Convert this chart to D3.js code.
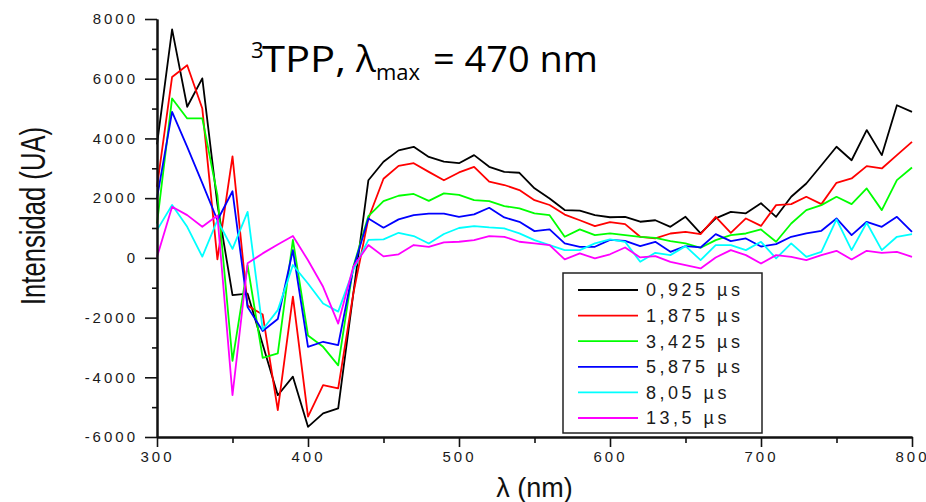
<!DOCTYPE html>
<html>
<head>
<meta charset="utf-8">
<script src="https://cdn.jsdelivr.net/npm/d3@7"></script>
<style>
  body { margin: 0; background: #fff; }
  svg { display: block; }
</style>
</head>
<body>
<svg id="chart" width="926" height="502"></svg>
<script>
// Transient spectra of 3TPP at several delays after excitation
const wavelengths = [300, 310, 320, 330, 340, 350, 360, 370, 380, 390, 400,
  410, 420, 430, 440, 450, 460, 470, 480, 490, 500,
  510, 520, 530, 540, 550, 560, 570, 580, 590, 600,
  610, 620, 630, 640, 650, 660, 670, 680, 690, 700,
  710, 720, 730, 740, 750, 760, 770, 780, 790, 800];

const delay0925 = [3800, 7650, 5060, 6010, 1800, -1250, -1200, -2900, -4600, -3980, -5660,
  -5210, -5040, -1200, 2600, 3220, 3600, 3720, 3380, 3220, 3170,
  3440, 3050, 2880, 2850, 2330, 1990, 1600, 1580, 1430, 1360,
  1375, 1210, 1260, 1040, 1375, 820, 1320, 1540, 1490, 1830,
  1375, 2045, 2490, 3100, 3720, 3270, 4280, 3440, 5110, 4890];

const delay1875 = [2380, 6060, 6450, 5000, -50, 3400, -1600, -1900, -5100, -1300, -5320,
  -4260, -4370, -1200, 1320, 2650, 3080, 3170, 2880, 2600, 2860,
  3050, 2550, 2440, 2270, 1930, 1770, 1450, 1260, 1060, 1200,
  1130, 705, 650, 816, 872, 794, 1375, 839, 1320, 1070,
  1766, 1800, 2045, 1800, 2514, 2660, 3072, 2994, 3440, 3886];

const delay3425 = [1150, 5340, 4670, 4670, 2100, -3450, -250, -3350, -3200, 600, -2600,
  -2980, -3600, -300, 1400, 1900, 2080, 2140, 1910, 2160, 2110,
  1934, 1900, 1733, 1655, 1487, 1430, 706, 952, 762, 817,
  760, 705, 670, 560, 482, 337, 593, 760, 816, 950,
  538, 1152, 1599, 1766, 2045, 1800, 2324, 1599, 2603, 3027];

const delay5875 = [2000, 4890, 3720, 2500, 1260, 2230, -1650, -2450, -2050, 260, -2980,
  -2810, -2920, -350, 1320, 1010, 1290, 1430, 1480, 1480, 1370,
  1454, 1677, 1353, 1208, 895, 952, 483, 371, 371, 600,
  570, 393, 537, 203, 393, 348, 794, 560, 650, 380,
  460, 706, 818, 907, 1320, 762, 1208, 1040, 1375, 873];

const delay805 = [930, 1770, 1040, 40, 1260, 300, 1540, -2400, -1750, -240, -860,
  -1530, -1800, -410, 600, 620, 840, 730, 480, 800, 1000,
  1063, 1018, 985, 818, 594, 427, 260, 260, 483, 620,
  537, -132, 170, 91, 393, -76, 426, 426, 259, 537,
  -20, 483, 36, 203, 1286, 260, 1175, 260, 706, 795];

const delay135 = [30, 1710, 1430, 1040, 1420, -4600, -180, 150, 450, 730, -80,
  -970, -2200, -300, 430, 50, 120, 430, 370, 520, 540,
  594, 728, 706, 539, 483, 427, -53, 148, -20, 120,
  348, 13, 58, -132, -244, -355, 13, 259, 91, -190,
  92, 36, -75, 92, 237, -53, 237, 170, 203, 36];

const seriesLabels = ["0,925 µs", "1,875 µs", "3,425 µs", "5,875 µs", "8,05 µs", "13,5 µs"];
const seriesColors = ["#000000", "#ff0000", "#00ff00", "#0000ff", "#00ffff", "#ff00ff"];
const seriesValues = [delay0925, delay1875, delay3425, delay5875, delay805, delay135];

const xMajorTicks = [300, 400, 500, 600, 700, 800];
const xMinorTicks = [350, 450, 550, 650, 750];
const yMajorTicks = [-6000, -4000, -2000, 0, 2000, 4000, 6000, 8000];
const yMinorTicks = [-5000, -3000, -1000, 1000, 3000, 5000, 7000];

const svg = d3.select("#chart");

const x = d3.scaleLinear().domain([300, 800]).range([157, 912]);
const y = d3.scaleLinear().domain([-6000, 8000]).range([437, 19]);

const tickFont = "'Liberation Sans', Arial, sans-serif";

// Spectral traces
const line = d3.line()
  .x(d => x(d[0]))
  .y(d => y(d[1]));

const traces = svg.append("g").attr("class", "traces");
seriesValues.forEach((vals, i) => {
  traces.append("path")
    .datum(wavelengths.map((w, j) => [w, vals[j]]))
    .attr("fill", "none")
    .attr("stroke", seriesColors[i])
    .attr("stroke-width", 1.8)
    .attr("stroke-linejoin", "round")
    .attr("d", line);
});

// Left axis
const yAxisG = svg.append("g").attr("transform", `translate(${x(300)},0)`);
yAxisG.append("g")
  .call(d3.axisLeft(y).tickValues(yMinorTicks).tickSize(5).tickSizeOuter(0).tickFormat(""));
yAxisG.append("g")
  .call(d3.axisLeft(y).tickValues(yMajorTicks).tickSize(12).tickSizeOuter(0)
    .tickPadding(7).tickFormat(d => String(d)));

// Bottom axis
const xAxisG = svg.append("g").attr("transform", `translate(0,${y(-6000)})`);
xAxisG.append("g")
  .call(d3.axisBottom(x).tickValues(xMinorTicks).tickSize(6).tickSizeOuter(0).tickFormat(""));
xAxisG.append("g")
  .call(d3.axisBottom(x).tickValues(xMajorTicks).tickSize(10).tickSizeOuter(0)
    .tickPadding(4).tickFormat(d => String(d)));

svg.selectAll(".domain").attr("stroke", "#111").attr("stroke-width", 2);
svg.selectAll(".tick line").attr("stroke", "#111").attr("stroke-width", 1.6);
svg.selectAll(".tick text")
  .attr("font-family", tickFont)
  .attr("font-size", 15)
  .attr("letter-spacing", "3px")
  .attr("fill", "#1a1a1a");

// Axis titles
svg.append("text")
  .attr("transform", `translate(45,${(y(8000) + y(-6000)) / 2 - 12}) rotate(-90)`)
  .attr("text-anchor", "middle")
  .attr("font-family", "'Liberation Sans Narrow', 'Liberation Sans', Arial, sans-serif")
  .attr("font-size", 35)
  .attr("textLength", 178)
  .attr("lengthAdjust", "spacingAndGlyphs")
  .attr("fill", "#111")
  .text("Intensidad (UA)");

svg.append("text")
  .attr("x", (x(300) + x(800)) / 2)
  .attr("y", 497)
  .attr("text-anchor", "middle")
  .attr("font-family", "'Liberation Sans', Arial, sans-serif")
  .attr("font-size", 27)
  .attr("fill", "#111")
  .text("λ (nm)");

// Chart title: superscript 3, subscript "max"
const title = svg.append("text")
  .attr("y", 72)
  .attr("font-family", "'Open Sans', sans-serif")
  .attr("font-size", 37)
  .attr("fill", "#000");
title.append("tspan").attr("x", 251).attr("font-size", 22).attr("dy", -14).text("3");
title.append("tspan").attr("x", 262).attr("dy", 14)
  .attr("textLength", 84).attr("lengthAdjust", "spacingAndGlyphs").text("TPP,");
title.append("tspan").attr("x", 356).text("λ");
title.append("tspan").attr("x", 376).attr("font-size", 22).attr("dy", 8).text("max");
title.append("tspan").attr("x", 433).attr("dy", -8)
  .attr("textLength", 165).attr("lengthAdjust", "spacingAndGlyphs").text("= 470 nm");

// Legend
const legend = svg.append("g");
legend.append("rect")
  .attr("x", 563).attr("y", 273).attr("width", 199).attr("height", 160)
  .attr("fill", "#fff").attr("stroke", "#222").attr("stroke-width", 1.5);
seriesLabels.forEach((label, i) => {
  const ly = 290 + i * 25.6;
  legend.append("line")
    .attr("x1", 578).attr("x2", 638).attr("y1", ly).attr("y2", ly)
    .attr("stroke", seriesColors[i]).attr("stroke-width", 1.8);
  legend.append("text")
    .attr("x", 646).attr("y", ly)
    .attr("dy", "0.36em")
    .attr("font-family", tickFont)
    .attr("font-size", 18)
    .attr("letter-spacing", "3.5px")
    .attr("fill", "#1a1a1a")
    .text(label);
});
</script>
</body>
</html>
